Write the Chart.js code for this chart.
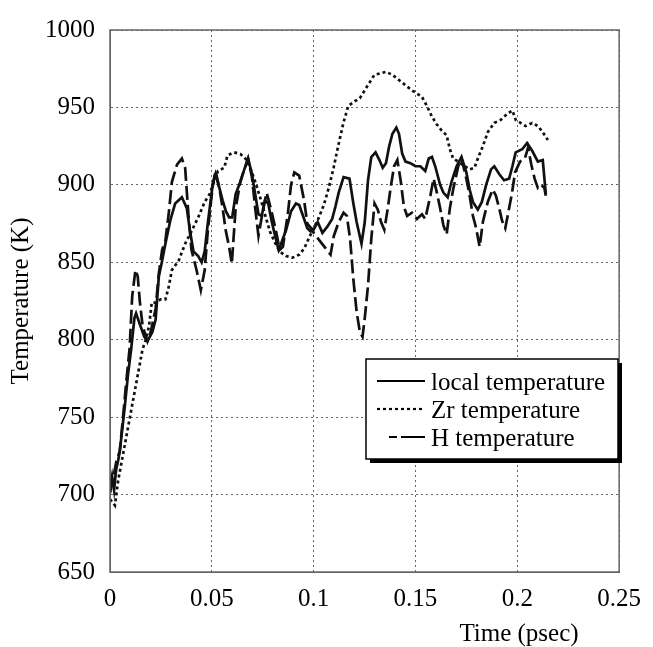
<!DOCTYPE html>
<html>
<head>
<meta charset="utf-8">
<script src="https://cdn.jsdelivr.net/npm/chart.js@4.4.0/dist/chart.umd.min.js"></script>
<style>
  html, body { margin: 0; padding: 0; background: #fff; }
  #wrap { position: relative; width: 653px; height: 647px; }
</style>
</head>
<body>
<div id="wrap"><canvas id="grafico"></canvas></div>
<script>
// ---- dados ----
const nomesSeries = ['local temperature', 'Zr temperature', 'H temperature'];

const ticksX = [0, 0.05, 0.1, 0.15, 0.2, 0.25];
const rotulosX = ['0', '0.05', '0.1', '0.15', '0.2', '0.25'];
const ticksY = [650, 700, 750, 800, 850, 900, 950, 1000];

// local temperature
const localT = [
  0, 0.001, 0.002, 0.003, 0.004, 0.0048, 0.0072, 0.0088, 0.0104, 0.012,
  0.0128, 0.0144, 0.0168, 0.0184, 0.0208, 0.0224, 0.024, 0.0256, 0.0272, 0.0296,
  0.032, 0.0353, 0.0377, 0.0393, 0.041, 0.0433, 0.045, 0.0465, 0.048, 0.0505,
  0.0518, 0.0537, 0.0553, 0.0569, 0.0585, 0.060, 0.0617, 0.064, 0.0657, 0.0678,
  0.0697, 0.0713, 0.0729, 0.0745, 0.0761, 0.0777, 0.0793, 0.0809, 0.0828, 0.084,
  0.0865, 0.0889, 0.0913, 0.0929, 0.0945, 0.0969, 0.0985, 0.0995, 0.102, 0.1043,
  0.1067, 0.1091, 0.1107, 0.1123, 0.1147, 0.1176, 0.1195, 0.1211, 0.1235, 0.1251,
  0.1267, 0.1283, 0.1304, 0.1323, 0.1339, 0.1355, 0.1371, 0.1387, 0.1406, 0.1419,
  0.1435, 0.1451, 0.1475, 0.15, 0.1524, 0.1548, 0.1565, 0.1581, 0.1597, 0.1621,
  0.1637, 0.1658, 0.1677, 0.1702, 0.1726, 0.175, 0.1766, 0.1782, 0.1806, 0.1826,
  0.1847, 0.1871, 0.1887, 0.1911, 0.1935, 0.196, 0.1976, 0.1992, 0.2024, 0.2048,
  0.2073, 0.2101, 0.2125, 0.214
];
const localK = [
  705, 712, 703, 716, 722, 728, 756, 777, 794, 814,
  817, 811, 802, 799, 805, 813, 841, 851, 862, 877,
  888, 892, 885, 870, 857, 854, 850, 857, 875, 901,
  907, 898, 890, 883, 879, 879, 894, 902, 909, 917,
  907, 894, 881, 880, 890, 888, 877, 868, 858, 862,
  871, 883, 888, 887, 881, 872, 870, 870, 876, 869,
  873, 878, 886, 895, 905, 904, 888, 876, 862, 876,
  903, 918, 921, 916, 911, 914, 925, 933, 937, 933,
  920, 915, 914, 912, 912, 909, 917, 918, 912, 900,
  895, 892, 902, 912, 918, 908, 897, 889, 884, 889,
  900, 910, 912, 907, 903, 904, 912, 921, 923, 927,
  922, 915, 916, 894
];

// Zr temperature
const zrT = [
  0, 0.0012, 0.0024, 0.004, 0.0064, 0.0088, 0.0112, 0.0136, 0.016, 0.0176,
  0.0192, 0.0205, 0.0224, 0.0248, 0.0272, 0.0288, 0.0304, 0.0337, 0.0369, 0.04,
  0.0433, 0.0465, 0.0489, 0.053, 0.0561, 0.0577, 0.0609, 0.064, 0.0665, 0.0689,
  0.0713, 0.0737, 0.0761, 0.0785, 0.0809, 0.0833, 0.0865, 0.0897, 0.093, 0.0954,
  0.0978, 0.1, 0.1026, 0.105, 0.1074, 0.1098, 0.1122, 0.1146, 0.117, 0.1202,
  0.1227, 0.126, 0.1298, 0.1355, 0.1387, 0.1435, 0.1483, 0.1531, 0.1556, 0.1581,
  0.1605, 0.1629, 0.1653, 0.1669, 0.1685, 0.171, 0.1742, 0.1766, 0.179, 0.1806,
  0.1831, 0.1855, 0.1887, 0.1919, 0.1952, 0.1976, 0.1992, 0.2016, 0.204, 0.2073,
  0.2101, 0.2125, 0.215
];
const zrK = [
  697, 695, 693, 709, 726, 743, 760, 777, 794, 800,
  809, 824, 824, 826, 826, 834, 845, 851, 862, 870,
  879, 889, 894, 909, 911, 919, 921, 920, 917, 911,
  902, 892, 881, 870, 863, 857, 854, 853, 855, 859,
  866, 872, 879, 887, 898, 911, 926, 940, 951, 954,
  956, 963, 971, 973, 971, 966, 961, 957, 951, 944,
  939, 935, 932, 923, 917, 915, 912, 910, 911, 917,
  925, 934, 940, 942, 946, 948, 942, 940, 938, 940,
  938, 934, 929
];

// H temperature
const hT = [
  0, 0.0016, 0.0032, 0.0048, 0.0064, 0.008, 0.0096, 0.0109, 0.0125, 0.0136,
  0.0147, 0.016, 0.0184, 0.02, 0.0224, 0.024, 0.0256, 0.0272, 0.0288, 0.0304,
  0.0329, 0.0353, 0.0369, 0.0385, 0.04, 0.0425, 0.0446, 0.0465, 0.048, 0.0505,
  0.0518, 0.0537, 0.0553, 0.0569, 0.0585, 0.0598, 0.0617, 0.064, 0.0657, 0.0678,
  0.0697, 0.0713, 0.0729, 0.0753, 0.0769, 0.0793, 0.0817, 0.0833, 0.0849, 0.0873,
  0.0889, 0.0905, 0.0929, 0.0953, 0.0969, 0.0993, 0.1, 0.1035, 0.1059, 0.1083,
  0.1099, 0.1123, 0.1147, 0.1163, 0.1179, 0.1195, 0.1211, 0.1227, 0.124, 0.1251,
  0.1267, 0.1283, 0.1299, 0.1315, 0.1331, 0.1347, 0.1363, 0.1379, 0.1395, 0.1411,
  0.1427, 0.1443, 0.1459, 0.1483, 0.1507, 0.1532, 0.1548, 0.1573, 0.1589, 0.1605,
  0.1621, 0.1637, 0.1653, 0.1669, 0.1685, 0.171, 0.1726, 0.175, 0.1766, 0.1782,
  0.1798, 0.1815, 0.1831, 0.1855, 0.1879, 0.1895, 0.1911, 0.1925, 0.1941, 0.1957,
  0.1973, 0.1989, 0.2013, 0.2037, 0.2053, 0.2069, 0.2085, 0.2101, 0.2117, 0.2133,
  0.214
];
const hK = [
  701, 711, 722, 728, 750, 773, 794, 828, 845, 841,
  824, 809, 799, 805, 820, 843, 858, 864, 881, 902,
  913, 917, 911, 881, 858, 845, 832, 845, 870, 900,
  909, 898, 885, 870, 860, 849, 885, 902, 909, 917,
  905, 885, 867, 885, 895, 883, 869, 858, 860, 881,
  900, 908, 906, 890, 875, 871, 869, 863, 859, 855,
  867, 876, 882, 880, 865, 839, 818, 805, 802, 814,
  835, 865, 888, 884, 876, 871, 884, 899, 912, 916,
  903, 886, 880, 882, 878, 881, 878, 893, 904, 895,
  885, 874, 868, 885, 897, 912, 917, 904, 893, 880,
  872, 860, 876, 889, 897, 893, 885, 877, 872, 883,
  894, 908, 915, 917, 924, 913, 904, 898, 900, 898,
  893
];

// ---- montagem ----
const fonte = "'Liberation Serif', 'DejaVu Serif', serif";
Chart.defaults.font.family = fonte;
Chart.defaults.color = '#000';

function pares(xs, ys) {
  let out = [];
  for (let i = 0; i < xs.length; i++) {
    out.push({ x: xs[i], y: ys[i] });
  }
  return out;
}

// moldura, legenda e titulo do eixo x
const moldura = {
  id: 'moldura',
  afterDraw(chart) {
    const ctx = chart.ctx;
    const a = chart.chartArea;
    ctx.save();

    // caixa do grafico
    ctx.strokeStyle = '#666';
    ctx.lineWidth = 1.5;
    ctx.setLineDash([]);
    ctx.strokeRect(a.left, a.top, a.right - a.left, a.bottom - a.top);

    // legenda com sombra
    const lx = 366, ly = 359, lw = 252, lh = 100;
    ctx.fillStyle = '#000';
    ctx.fillRect(lx + 4, ly + 4, lw, lh);
    ctx.fillStyle = '#fff';
    ctx.fillRect(lx, ly, lw, lh);
    ctx.strokeStyle = '#000';
    ctx.lineWidth = 1.5;
    ctx.strokeRect(lx, ly, lw, lh);

    const linhasY = [381, 409, 437];
    const ds = chart.data.datasets;
    ctx.font = '25px ' + fonte;
    ctx.textBaseline = 'middle';
    ctx.textAlign = 'left';
    for (let i = 0; i < ds.length; i++) {
      ctx.beginPath();
      ctx.strokeStyle = '#000';
      ctx.lineWidth = 2.2;
      let x0 = 377;
      if (i === 2) {
        ctx.setLineDash([8, 4, 24, 4]);
        x0 = 389;
      } else {
        ctx.setLineDash(ds[i].borderDash || []);
      }
      ctx.moveTo(x0, linhasY[i]);
      ctx.lineTo(425, linhasY[i]);
      ctx.stroke();
      ctx.setLineDash([]);
      ctx.fillStyle = '#000';
      ctx.fillText(ds[i].label, 431, linhasY[i] + 2);
    }

    // titulo do eixo x
    ctx.textAlign = 'center';
    ctx.fillText('Time (psec)', 519, 634);
    ctx.restore();
  }
};

const config = {
  type: 'line',
  data: {
    datasets: [
      {
        label: nomesSeries[0],
        data: pares(localT, localK),
        borderColor: '#111',
        borderWidth: 2.7,
        pointRadius: 0,
        tension: 0
      },
      {
        label: nomesSeries[1],
        data: pares(zrT, zrK),
        borderColor: '#111',
        borderWidth: 2.7,
        borderDash: [3, 3],
        pointRadius: 0,
        tension: 0
      },
      {
        label: nomesSeries[2],
        data: pares(hT, hK),
        borderColor: '#111',
        borderWidth: 2.7,
        borderDash: [14, 5],
        pointRadius: 0,
        tension: 0
      }
    ]
  },
  options: {
    responsive: true,
    maintainAspectRatio: false,
    animation: false,
    layout: { padding: { top: 23, right: 23, left: 0, bottom: 0 } },
    plugins: {
      legend: { display: false },
      title: { display: false },
      tooltip: { enabled: false }
    },
    scales: {
      x: {
        type: 'linear',
        min: 0,
        max: 0.25,
        afterBuildTicks: (s) => { s.ticks = ticksX.map(v => ({ value: v })); },
        afterFit: (s) => { s.height = 75; },
        ticks: {
          padding: 12,
          maxRotation: 0,
          font: { size: 25 },
          color: '#000',
          callback: (v) => rotulosX[ticksX.indexOf(v)] ?? String(v)
        },
        grid: { color: '#666', lineWidth: 1, drawTicks: false },
        border: { display: true, color: '#666', dash: [2, 3] }
      },
      y: {
        min: 650,
        max: 1000,
        afterBuildTicks: (s) => { s.ticks = ticksY.map(v => ({ value: v })); },
        afterFit: (s) => { s.width = 110; },
        ticks: {
          padding: 15,
          font: { size: 25 },
          color: '#000',
          callback: (v) => String(v)
        },
        grid: { color: '#666', lineWidth: 1, drawTicks: false },
        border: { display: true, color: '#666', dash: [2, 3] },
        title: {
          display: true,
          text: 'Temperature (K)',
          font: { size: 25 },
          color: '#000',
          padding: { top: 6, bottom: 0 }
        }
      }
    }
  },
  plugins: [moldura]
};

window.onload = () => {
  new Chart(document.getElementById('grafico'), config);
};
</script>
</body>
</html>
